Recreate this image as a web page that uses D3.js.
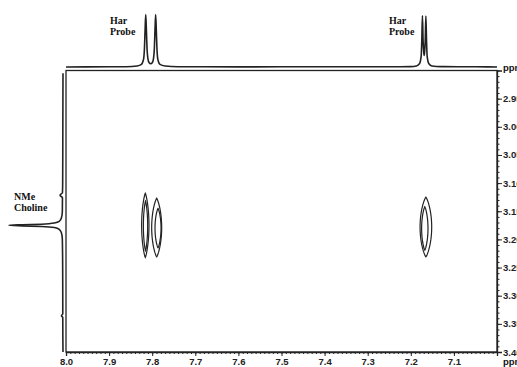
<!DOCTYPE html>
<html lang="en">
<head>
    <meta charset="UTF-8">
    <title>HSQC</title>
    <script src="https://cdnjs.cloudflare.com/ajax/libs/d3/7.8.5/d3.min.js"></script>
    <style>
      body { margin: 0; background: #fff; }
      .lbl { font-family: "Liberation Serif", "Times New Roman", serif; font-weight: bold; font-size: 10px; fill: #111; }
      .tick text { font-family: "Liberation Sans", Arial, sans-serif; font-weight: bold; font-size: 9.5px; fill: #222; }
    </style>
</head>
<body>
<svg id="graph" width="517" height="367"></svg>
<script>
    // 1D projection on top (f2, ppm -> relative intensity)
    const topTrace = [
      [8.00, 0], [7.90, 0.004], [7.86, 0.006], [7.835, 0.02], [7.825, 0.05], [7.82, 0.15],
      [7.818, 0.35], [7.8165, 0.7], [7.815, 0.99], [7.8135, 0.7], [7.812, 0.35], [7.81, 0.16],
      [7.807, 0.08], [7.8035, 0.06], [7.800, 0.08], [7.797, 0.16], [7.795, 0.35], [7.7935, 0.7],
      [7.792, 0.99], [7.7905, 0.7], [7.789, 0.35], [7.787, 0.15], [7.782, 0.05], [7.77, 0.02],
      [7.74, 0.006], [7.6, 0.003], [7.4, 0.004], [7.25, 0.004], [7.20, 0.008], [7.187, 0.02],
      [7.18, 0.06], [7.176, 0.2], [7.1745, 0.5], [7.173, 0.97], [7.1715, 0.5], [7.170, 0.28],
      [7.169, 0.22], [7.168, 0.28], [7.1665, 0.5], [7.165, 0.96], [7.1635, 0.5], [7.162, 0.2],
      [7.158, 0.06], [7.151, 0.02], [7.13, 0.007], [7.05, 0.004], [7.00, 0]
    ];

    // 1D projection on the left (f1, ppm -> relative intensity)
    const leftTrace = [
      [2.905, 0], [3.00, 0.003], [3.10, 0.006], [3.117, 0.01], [3.1215, 0.055], [3.126, 0.01],
      [3.15, 0.012], [3.162, 0.03], [3.168, 0.07], [3.171, 0.16], [3.173, 0.4], [3.174, 0.75],
      [3.175, 1.0], [3.176, 0.75], [3.177, 0.4], [3.179, 0.16], [3.182, 0.07], [3.188, 0.03],
      [3.20, 0.012], [3.25, 0.006], [3.332, 0.004], [3.3355, 0.028], [3.339, 0.004],
      [3.37, 0.003], [3.40, 0]
    ];

    // cross peak contours: [f2 centre, f1 centre, f2 half-width, f1 half-width]
    const contours = [
      [7.816, 3.175, 0.0085, 0.057],
      [7.8155, 3.176, 0.005, 0.044],
      [7.7896, 3.179, 0.0116, 0.052],
      [7.7865, 3.180, 0.007, 0.035],
      [7.165, 3.178, 0.0135, 0.053],
      [7.1675, 3.1806, 0.0074, 0.0385]
    ];

    const xTicks = [8.0, 7.9, 7.8, 7.7, 7.6, 7.5, 7.4, 7.3, 7.2, 7.1];
    const yTicks = [2.95, 3.00, 3.05, 3.10, 3.15, 3.20, 3.25, 3.30, 3.35, 3.40];

    const labels = [
      { text: ['Har', 'Probe'], x: 110, y: 24 },
      { text: ['Har', 'Probe'], x: 389, y: 24 },
      { text: ['NMe', 'Choline'], x: 14, y: 200 }
    ];

    const svg = d3.select('#graph');
    const ink = '#222';

    const x = d3.scaleLinear().domain([8.0, 7.0]).range([66, 497]);
    const y = d3.scaleLinear().domain([2.90, 3.40]).range([70.5, 352]);
    const topI = d3.scaleLinear().domain([0, 1]).range([67, 14]);
    const leftI = d3.scaleLinear().domain([0, 1]).range([63, 9]);

    const minorX = d3.range(0, 101).map(i => 8.0 - i * 0.01);
    const minorY = d3.range(0, 51).map(i => 2.90 + i * 0.01);

    // frame
    svg.append('rect')
      .attr('x', x(8.0)).attr('y', y(2.90))
      .attr('width', x(7.0) - x(8.0)).attr('height', y(3.40) - y(2.90))
      .attr('fill', 'none').attr('stroke', ink).attr('stroke-width', 1.3);

    // bottom axis
    svg.append('g')
      .attr('transform', `translate(0,${y(3.40)})`)
      .call(d3.axisBottom(x).tickValues(minorX).tickSize(2).tickFormat(''))
      .call(g => g.select('.domain').remove())
      .call(g => g.selectAll('line').attr('stroke', ink));
    svg.append('g')
      .attr('transform', `translate(0,${y(3.40)})`)
      .call(d3.axisBottom(x).tickValues(xTicks).tickSize(4).tickPadding(2.5).tickFormat(d3.format('.1f')))
      .call(g => g.select('.domain').attr('stroke', ink).attr('stroke-width', 1.3))
      .call(g => g.selectAll('line').attr('stroke', ink));

    // right axis
    svg.append('g')
      .attr('transform', `translate(${x(7.0)},0)`)
      .call(d3.axisRight(y).tickValues(minorY).tickSize(2.5).tickFormat(''))
      .call(g => g.select('.domain').remove())
      .call(g => g.selectAll('line').attr('stroke', ink));
    svg.append('g')
      .attr('transform', `translate(${x(7.0)},0)`)
      .call(d3.axisRight(y).tickValues(yTicks).tickSize(5).tickPadding(1).tickFormat(d3.format('.2f')))
      .call(g => g.select('.domain').attr('stroke', ink).attr('stroke-width', 1.3))
      .call(g => g.selectAll('line').attr('stroke', ink));

    // ppm units
    svg.append('text').attr('class', 'lbl')
      .attr('x', 503).attr('y', 365)
      .style('font-family', 'Liberation Sans, Arial, sans-serif').style('font-size', '9.5px')
      .text('ppm');
    svg.append('text').attr('class', 'lbl')
      .attr('x', 503).attr('y', 71)
      .style('font-family', 'Liberation Sans, Arial, sans-serif').style('font-size', '9.5px')
      .text('ppm');

    // projections
    svg.append('path')
      .datum(topTrace)
      .attr('d', d3.line().x(d => x(d[0])).y(d => topI(d[1])).curve(d3.curveMonotoneX))
      .attr('fill', 'none').attr('stroke', ink).attr('stroke-width', 1.6);

    svg.append('path')
      .datum(leftTrace)
      .attr('d', d3.line().x(d => leftI(d[1])).y(d => y(d[0])).curve(d3.curveMonotoneY))
      .attr('fill', 'none').attr('stroke', ink).attr('stroke-width', 1.6);

    // contours, drawn as pointed lenses
    const angles = d3.range(0, 361, 6).map(a => a * Math.PI / 180);
    const lens = d3.line().x(p => p[0]).y(p => p[1]).curve(d3.curveLinearClosed);
    svg.selectAll('path.contour')
      .data(contours)
      .enter()
      .append('path')
      .attr('class', 'contour')
      .attr('d', c => lens(angles.map(t => {
        const ct = Math.cos(t), st = Math.sin(t);
        return [x(c[0] + c[2] * ct * Math.abs(ct) ** 0.6), y(c[1] + c[3] * st)];
      })))
      .attr('fill', 'none').attr('stroke', ink).attr('stroke-width', 1.2);

    // peak labels
    labels.forEach(l => {
      const t = svg.append('text').attr('class', 'lbl').attr('x', l.x).attr('y', l.y);
      l.text.forEach((s, i) => t.append('tspan').attr('x', l.x).attr('dy', i ? 10.5 : 0).text(s));
    });
</script>
</body>
</html>
